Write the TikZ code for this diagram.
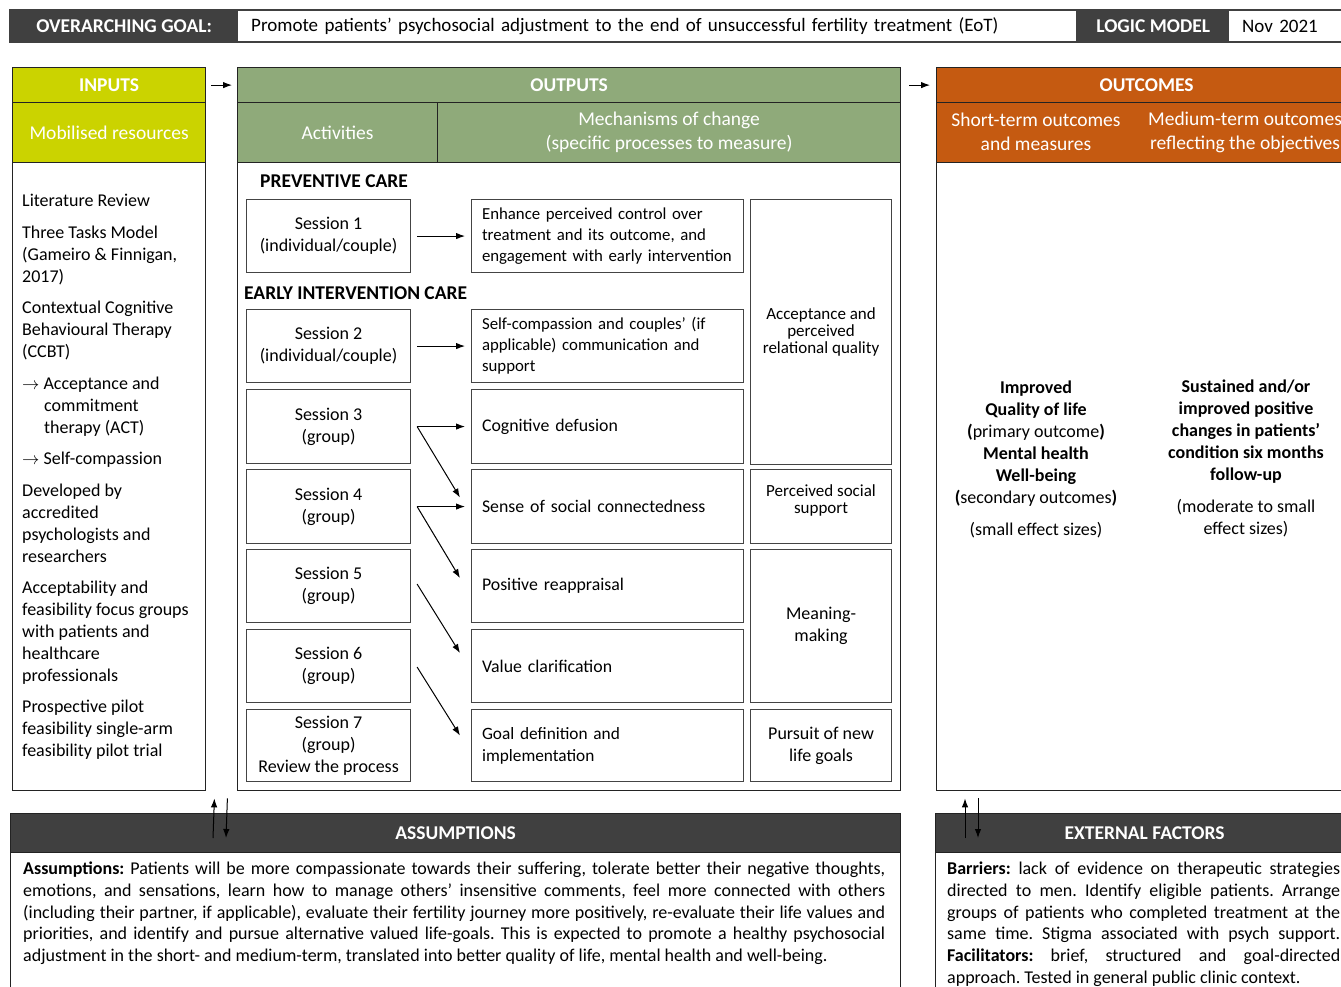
\documentclass[tikz,border=0pt]{standalone}
\usepackage{fontspec}
\setmainfont{Carlito}
\usetikzlibrary{arrows.meta}

\definecolor{inputGreen}{RGB}{203,211,0}
\definecolor{outputGreen}{RGB}{143,170,122}
\definecolor{outcomeOrange}{RGB}{197,90,17}
\definecolor{barGrey}{RGB}{64,64,64}
\definecolor{lineGrey}{RGB}{35,35,35}

\newcommand{\bodyFont}{\fontsize{18}{22}\selectfont}
\newcommand{\mechFont}{\fontsize{16.8}{21}\selectfont}
\newcommand{\tightFont}{\fontsize{17}{17}\selectfont}
\newcommand{\headFont}{\fontsize{19.5}{22}\selectfont\bfseries}
\newcommand{\subFont}{\fontsize{19.5}{24}\selectfont}
\newcommand{\smallFont}{\fontsize{18}{21.7}\selectfont}
\newcommand{\jline}[1]{\makebox[\linewidth][s]{#1}}

\tikzset{
	panel/.style={draw=lineGrey, line width=1.4pt, fill=white, anchor=north west, inner sep=0pt},
	head/.style={draw=lineGrey, line width=1.2pt, text=white, font=\headFont, anchor=north west, inner sep=0pt},
	subhead/.style={head, font=\subFont, align=center},
	barhead/.style={text=white, font=\headFont, anchor=north west, inner sep=0pt},
	barcell/.style={fill=white, font=\fontsize{19}{22}\selectfont, anchor=north west, inner xsep=13pt, inner ysep=0pt, align=left},
	cell/.style={draw=lineGrey!85, line width=1.1pt, anchor=north west, inner sep=0pt, font=\bodyFont, align=center},
	mech/.style={font=\mechFont, inner xsep=10.5pt, text width=251pt, align=left},
	mechbig/.style={mech, font=\fontsize{17.8}{21}\selectfont},
	tight/.style={font=\tightFont},
	grouplabel/.style={font=\headFont, anchor=west, inner sep=0pt},
	bottomtext/.style={font=\smallFont\frenchspacing, anchor=north west, inner sep=0pt, align=justify},
	arr/.style={-{Latex[length=9pt,width=6.5pt]}, line width=1pt},
}

\newcommand{\cellAt}[7][]{
	\path (#2,#3) node[cell, minimum width=#4, minimum height=#5, #1](#6){#7};
}

\begin{document}
\begin{tikzpicture}[x=1pt,y=-1pt]
	\useasboundingbox (0,0) rectangle (1341,987);
	\clip (0,0) rectangle (1341,987);

	\fill[barGrey] (9,9) rectangle (1360,43);
	\path (10,10) node[barhead, minimum width=228, minimum height=32](goalHead){OVERARCHING GOAL:};
	\path (238,11) node[barcell, text width=812, minimum height=30](goalText){Promote patients’ psychosocial adjustment to the end of unsuccessful fertility treatment (EoT)};
	\path (1078,10) node[barhead, minimum width=150, minimum height=32](modelHead){LOGIC MODEL};
	\path (1229,11) node[barcell, text width=120, minimum height=30](dateText){Nov 2021};

	\path (12,67) node[panel, minimum width=193, minimum height=723](inputs){};
	\path (12,67) node[head, fill=inputGreen, minimum width=193, minimum height=35](inHead){INPUTS};
	\path (12,102) node[subhead, fill=inputGreen, minimum width=193, minimum height=60](inSub){Mobilised resources};

	\path (237,67) node[panel, minimum width=663, minimum height=723](outputs){};
	\path (237,67) node[head, fill=outputGreen, minimum width=663, minimum height=35](outHead){OUTPUTS};
	\path (237,102) node[subhead, fill=outputGreen, minimum width=200, minimum height=60](actHead){Activities};
	\path (437,102) node[subhead, fill=outputGreen, minimum width=463, minimum height=60](mechHead){Mechanisms of change\\(specific processes to measure)};

	\path (936,67) node[panel, minimum width=420, minimum height=723](outcomes){};
	\path (936,67) node[head, fill=outcomeOrange, minimum width=420, minimum height=35](ocHead){OUTCOMES};
	\path (936,102) node[subhead, fill=outcomeOrange, minimum width=420, minimum height=60](ocSub){};
	\path (1036,132) node[font=\subFont, text=white, align=center, inner sep=0pt](shortHead){Short-term outcomes\\and measures};
	\path (1245,132) node[font=\subFont, text=white, align=center, inner sep=0pt](medHead){Medium-term outcomes\\reflecting the objectives};

	\draw[arr] ([xshift=5]inHead.east) -- ([xshift=-5]outHead.west);
	\draw[arr] ([xshift=8]outHead.east) -- ([xshift=-6]ocHead.west);

	\path (22,194) node[font=\bodyFont, anchor=north west, inner sep=0pt, align=left](inList){Literature Review\\[9.5pt]
		Three Tasks Model\\(Gameiro \& Finnigan,\\2017)\\[9.5pt]
		Contextual Cognitive\\Behavioural Therapy\\(CCBT)\\[9.5pt]
		$\rightarrow$ Acceptance and\\\hspace*{22pt}commitment\\\hspace*{22pt}therapy (ACT)\\[9.5pt]
		$\rightarrow$ Self-compassion\\[9.5pt]
		Developed by\\accredited\\psychologists and\\researchers\\[9pt]
		Acceptability and\\feasibility focus groups\\with patients and\\healthcare\\professionals\\[9pt]
		Prospective pilot\\feasibility single-arm\\feasibility pilot trial};

	\path (260,181) node[grouplabel](prevLabel){PREVENTIVE CARE};
	\path (244,293) node[grouplabel](earlyLabel){EARLY INTERVENTION CARE};

	\cellAt{246}{199}{164}{73}{s1}{Session 1\\(individual/couple)};
	\cellAt{246}{309}{164}{73}{s2}{Session 2\\(individual/couple)};
	\cellAt{246}{389}{164}{74}{s3}{Session 3\\(group)};
	\cellAt{246}{469}{164}{74}{s4}{Session 4\\(group)};
	\cellAt{246}{549}{164}{73}{s5}{Session 5\\(group)};
	\cellAt{246}{629}{164}{73}{s6}{Session 6\\(group)};
	\cellAt{246}{709}{164}{72}{s7}{Session 7\\(group)\\Review the process};

	\cellAt[mech]{471}{199}{272}{73}{m1}{Enhance perceived control over\\treatment and its outcome, and\\engagement with early intervention};
	\cellAt[mech]{471}{309}{272}{73}{m2}{Self-compassion and couples’ (if\\applicable) communication and\\support};
	\cellAt[mechbig]{471}{389}{272}{74}{m3}{Cognitive defusion};
	\cellAt[mechbig]{471}{469}{272}{74}{m4}{Sense of social connectedness};
	\cellAt[mechbig]{471}{549}{272}{73}{m5}{Positive reappraisal};
	\cellAt[mechbig]{471}{629}{272}{73}{m6}{Value clarification};
	\cellAt[mech, font=\fontsize{17.3}{22}\selectfont]{471}{709}{272}{72}{m7}{Goal definition and\\implementation};

	\cellAt[tight]{750}{199}{141}{265}{r1}{Acceptance and\\perceived\\relational quality};
	\cellAt[tight]{750}{469}{141}{74}{r2}{Perceived social\\support\\[-2pt]};
	\cellAt{750}{549}{141}{153}{r3}{Meaning-\\making};
	\cellAt{750}{709}{141}{72}{r4}{Pursuit of new\\life goals};

	\draw[arr] ([xshift=6]s1.east) -- ([xshift=-6]m1.west);
	\draw[arr] ([xshift=6]s2.east) -- ([xshift=-6]m2.west);
	\draw[arr] ([xshift=6]s3.east) -- ([xshift=-6]m3.west);
	\draw[arr] ([xshift=6]s3.east) -- ([xshift=-11,yshift=9]m4.west);
	\draw[arr] ([xshift=6]s4.east) -- ([xshift=-6]m4.west);
	\draw[arr] ([xshift=6]s4.east) -- ([xshift=-11,yshift=8]m5.west);
	\draw[arr] ([xshift=6,yshift=2]s5.east) -- ([xshift=-11,yshift=13]m6.west);
	\draw[arr] ([xshift=6,yshift=-1]s6.east) -- ([xshift=-11,yshift=10]m7.west);

	\path (1036,459) node[font=\bodyFont, align=center, inner sep=0pt](shortText){\textbf{Improved}\\\textbf{Quality of life}\\\textbf{(}primary outcome\textbf{)}\\\textbf{Mental health}\\\textbf{Well-being}\\\textbf{(}secondary outcomes\textbf{)}\\[10pt](small effect sizes)};
	\path (1246,458) node[font=\bodyFont, align=center, inner sep=0pt](medText){\textbf{Sustained and/or}\\\textbf{improved positive}\\\textbf{changes in patients’}\\\textbf{condition six months}\\\textbf{follow-up}\\[10pt](moderate to small\\effect sizes)};

	\path (10,813) node[head, fill=barGrey, minimum width=890, minimum height=39](asHead){ASSUMPTIONS};
	\path (10,852) node[panel, minimum width=890, minimum height=160](asBody){};
	\path (23,862) node[bottomtext, text width=862](asText){\jline{\textbf{Assumptions:} Patients will be more compassionate towards their suffering, tolerate better their negative thoughts,}\\
		\jline{emotions, and sensations, learn how to manage others’ insensitive comments, feel more connected with others}\\
		\jline{(including their partner, if applicable), evaluate their fertility journey more positively, re-evaluate their life values and}\\
		\jline{priorities, and identify and pursue alternative valued life-goals. This is expected to promote a healthy psychosocial}\\
		adjustment in the short- and medium-term, translated into better quality of life, mental health and well-being.};

	\path (935,813) node[head, fill=barGrey, minimum width=418, minimum height=39](exHead){EXTERNAL FACTORS};
	\path (935,852) node[panel, minimum width=418, minimum height=160](exBody){};
	\path (947,862) node[bottomtext, text width=393](exText){\jline{\textbf{Barriers:} lack of evidence on therapeutic strategies}\\
		\jline{directed to men. Identify eligible patients. Arrange}\\
		\jline{groups of patients who completed treatment at the}\\
		\jline{same time. Stigma associated with psych support.}\\
		\jline{\textbf{Facilitators:} brief, structured and goal-directed}\\
		approach. Tested in general public clinic context.};

	\draw[arr] ([xshift=203,yshift=-25]asHead.north west) -- ([xshift=8,yshift=-7]inputs.south east);
	\draw[arr] ([xshift=21,yshift=-7]inputs.south east) -- ([xshift=216,yshift=-25]asHead.north west);
	\draw[arr] ([xshift=30,yshift=-25]exHead.north west) -- ([xshift=29,yshift=-7]outcomes.south west);
	\draw[arr] ([xshift=42,yshift=-7]outcomes.south west) -- ([xshift=43,yshift=-25]exHead.north west);
\end{tikzpicture}
\end{document}
